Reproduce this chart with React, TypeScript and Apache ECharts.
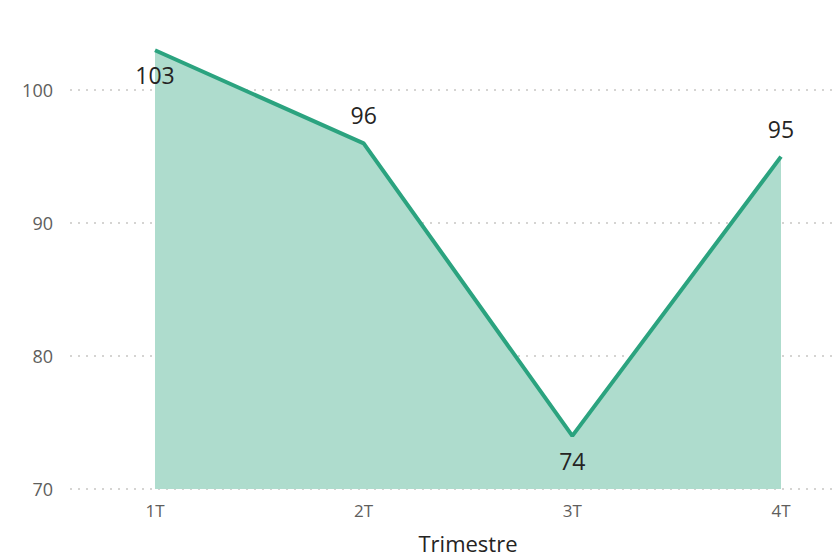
import React, { useEffect, useRef } from "react";
import * as echarts from "echarts";

const categories = ["1T", "2T", "3T", "4T"];
const values = [103, 96, 74, 95];
const labelPositions = ["bottom", "top", "bottom", "top"];
const yTicks = [70, 80, 90, 100];

const FONT = "'Segoe UI', 'Open Sans', 'DejaVu Sans', sans-serif";

export default function App() {
  const ref = useRef<HTMLDivElement>(null);
  useEffect(() => {
    if (!ref.current) return;
    const chart = echarts.init(ref.current, undefined, { renderer: "svg" });
    const yMin = yTicks[0];
    const yMax = 104;
    chart.setOption({
      animation: false,
      backgroundColor: "#ffffff",
      grid: [
        { left: 70, right: 0, top: 37, bottom: 70, outerBoundsMode: "none", containLabel: false },
        { left: 155, right: 54, top: 37, bottom: 70, outerBoundsMode: "none", containLabel: false },
      ],
      xAxis: [
        { gridIndex: 0, type: "category", data: categories, show: false },
        {
          gridIndex: 1,
          type: "category",
          data: categories,
          boundaryGap: false,
          axisLine: { show: false },
          axisTick: { show: false },
          axisLabel: { color: "#605E5C", fontSize: 17, fontFamily: FONT, margin: 13 },
          name: "Trimestre",
          nameLocation: "middle",
          nameGap: 43,
          nameTextStyle: { color: "#252423", fontSize: 22, fontFamily: FONT },
        },
      ],
      yAxis: [
        {
          gridIndex: 0,
          type: "value",
          min: yMin,
          max: yMax,
          interval: 10,
          axisLine: { show: false },
          axisTick: { show: false },
          axisLabel: {
            color: "#605E5C",
            fontSize: 18,
            fontFamily: FONT,
            margin: 17,
            showMaxLabel: false,
            formatter: (v: number) => (yTicks.includes(v) ? String(v) : ""),
          },
          splitLine: {
            show: true,
            showMaxLine: false,
            lineStyle: { color: "#C8C6C4", type: [2, 6], width: 1.5 },
          },
        },
        { gridIndex: 1, type: "value", min: yMin, max: yMax, show: false },
      ],
      series: [
        {
          type: "line",
          xAxisIndex: 1,
          yAxisIndex: 1,
          data: values.map((v, i) => ({
            value: v,
            label: {
              position: labelPositions[i],
              distance: labelPositions[i] === "top" ? 16 : 13,
            },
          })),
          symbol: "circle",
          symbolSize: 1,
          itemStyle: { color: "rgba(0,0,0,0)", borderWidth: 0 },
          lineStyle: { color: "#2BA37F", width: 4 },
          areaStyle: { color: "#AEDCCD", opacity: 1, origin: "start" },
          label: {
            show: true,
            color: "#252423",
            fontSize: 23,
            fontFamily: FONT,
          },
        },
      ],
    });
    return () => chart.dispose();
  }, []);
  return (
    <div
      ref={ref}
      style={{ position: "fixed", left: 0, top: 0, width: 835, height: 559 }}
    />
  );
}
